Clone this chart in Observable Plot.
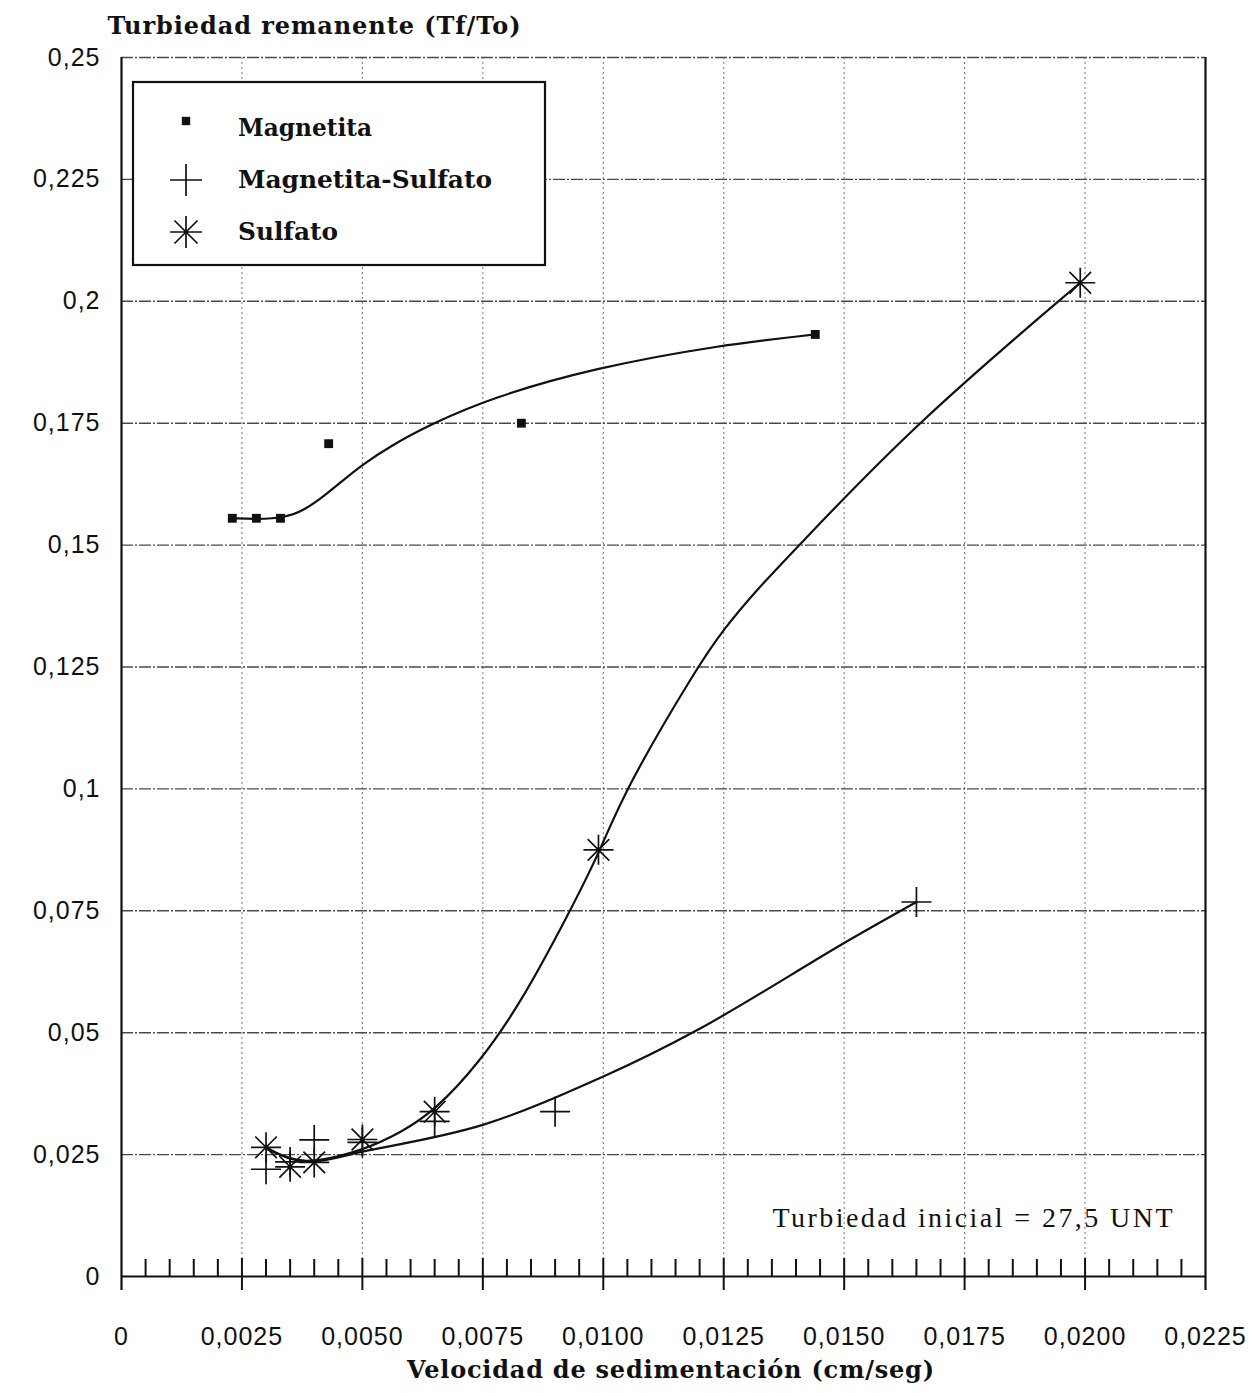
<!DOCTYPE html>
<html><head><meta charset="utf-8">
<script src="https://cdn.jsdelivr.net/npm/d3@7"></script>
<script src="https://cdn.jsdelivr.net/npm/@observablehq/plot@0.6"></script>
<style>
body{margin:0;background:#fff;}
#wrap{position:relative;width:1256px;height:1393px;}
</style></head><body><div id="wrap"></div>
<script>
// ---- data ----
const magX = [0.0023, 0.0028, 0.0033, 0.0043, 0.0083, 0.0144];
const magY = [0.1555, 0.1555, 0.1555, 0.1708, 0.1750, 0.1932];

const msX = [0.0030, 0.0035, 0.0040, 0.0050, 0.0065, 0.0090, 0.0165];
const msY = [0.0220, 0.0235, 0.0280, 0.0275, 0.0318, 0.0338, 0.0768];

const sulX = [0.0030, 0.0035, 0.0040, 0.0050, 0.0065, 0.0099, 0.0199];
const sulY = [0.0265, 0.0225, 0.0234, 0.0281, 0.0338, 0.0875, 0.2038];

// fitted curves (as drawn in the picture)
const magCurveX = [0.0023, 0.0028, 0.0034, 0.0038, 0.0042, 0.0046, 0.0050, 0.0056, 0.0064, 0.0077, 0.0098, 0.0124, 0.0144];
const magCurveY = [0.1555, 0.1553, 0.1556, 0.1572, 0.1600, 0.1633, 0.1665, 0.1704, 0.1747, 0.1803, 0.1863, 0.1910, 0.1932];

const msCurveX = [0.0030, 0.0035, 0.0040, 0.0050, 0.0075, 0.0100, 0.0120, 0.0150, 0.0165];
const msCurveY = [0.0262, 0.0243, 0.0236, 0.0256, 0.0311, 0.0410, 0.0508, 0.0684, 0.0768];

const sulCurveX = [0.0030, 0.0035, 0.0040, 0.0050, 0.0058, 0.0065, 0.0074, 0.00828, 0.00932, 0.00994, 0.01046, 0.01195, 0.0125, 0.0132, 0.01396, 0.01648, 0.0199];
const sulCurveY = [0.0265, 0.0238, 0.0234, 0.0258, 0.0295, 0.0340, 0.0435, 0.0559, 0.0751, 0.0874, 0.1000, 0.1250, 0.1328, 0.1410, 0.1489, 0.1750, 0.2038];

const xTicks = [0, 0.0025, 0.0050, 0.0075, 0.0100, 0.0125, 0.0150, 0.0175, 0.0200, 0.0225];
const xTickLabels = ["0", "0,0025", "0,0050", "0,0075", "0,0100", "0,0125", "0,0150", "0,0175", "0,0200", "0,0225"];
const yTicks = [0, 0.025, 0.05, 0.075, 0.1, 0.125, 0.15, 0.175, 0.2, 0.225, 0.25];
const yTickLabels = ["0", "0,025", "0,05", "0,075", "0,1", "0,125", "0,15", "0,175", "0,2", "0,225", "0,25"];

const seriesNames = ["Magnetita", "Magnetita-Sulfato", "Sulfato"];
const yTitle = "Turbiedad remanente (Tf/To)";
const xTitle = "Velocidad de sedimentación (cm/seg)";
const note = "Turbiedad inicial = 27,5 UNT";

// ---- layout ----
const W = 1256, H = 1393, mL = 121, mR = 51, mT = 57, mB = 117;
const plotH = H - mT - mB;
const titleFont = "DejaVu Serif";
const tickFont = "Liberation Sans";

const rows = (xs, ys) => xs.map((x, i) => ({x, y: ys[i]}));
const minorTicks = d3.range(1, 45).map(i => i * 0.0005).filter((v, i) => (i + 1) % 5 !== 0);
const xGrid = xTicks.slice(1, -1);
const yGrid = yTicks.slice(1);

const plusSym = {draw(ctx, size) { const r = Math.sqrt(size / Math.PI);
  ctx.moveTo(-r, 0); ctx.lineTo(r, 0); ctx.moveTo(0, -r); ctx.lineTo(0, r); }};
const starSym = {draw(ctx, size) { const r = Math.sqrt(size / Math.PI), d = r * 0.72;
  ctx.moveTo(-r, 0); ctx.lineTo(r, 0); ctx.moveTo(0, -r); ctx.lineTo(0, r);
  ctx.moveTo(-d, -d); ctx.lineTo(d, d); ctx.moveTo(-d, d); ctx.lineTo(d, -d); }};

const chart = Plot.plot({
  width: W, height: H, marginLeft: mL, marginRight: mR, marginTop: mT, marginBottom: mB,
  x: {domain: [0, 0.0225], axis: null},
  y: {domain: [0, 0.25], axis: null},
  style: {background: "white", overflow: "visible"},
  marks: [
    Plot.ruleX(xGrid, {stroke: "#8a8a8a", strokeWidth: 1.2, strokeDasharray: "2,3"}),
    Plot.ruleY(yGrid, {stroke: "#4a4a4a", strokeWidth: 1.4, strokeDasharray: "12,2,2,2"}),
    Plot.ruleX(minorTicks, {insetTop: plotH - 17, stroke: "#111", strokeWidth: 2}),
    Plot.ruleX(xTicks.slice(1, -1), {insetTop: plotH - 18, insetBottom: -14, stroke: "#111", strokeWidth: 2}),
    Plot.ruleX([0, 0.0225], {insetBottom: -14, stroke: "#111", strokeWidth: 2.2}),
    Plot.ruleY([0], {stroke: "#111", strokeWidth: 2.2}),
    Plot.line(rows(magCurveX, magCurveY), {x: "x", y: "y", curve: "basis", stroke: "#111", strokeWidth: 2.2}),
    Plot.line(rows(msCurveX, msCurveY), {x: "x", y: "y", curve: "catmull-rom", stroke: "#111", strokeWidth: 2.2}),
    Plot.line(rows(sulCurveX, sulCurveY), {x: "x", y: "y", curve: "basis", stroke: "#111", strokeWidth: 2.2}),
    Plot.dot(rows(magX, magY), {x: "x", y: "y", symbol: "square", r: 5, fill: "#111", stroke: "none"}),
    Plot.dot(rows(msX, msY), {x: "x", y: "y", symbol: plusSym, r: 15, fill: "none", stroke: "#111", strokeWidth: 1.7}),
    Plot.dot(rows(sulX, sulY), {x: "x", y: "y", symbol: starSym, r: 15, fill: "none", stroke: "#111", strokeWidth: 1.7}),
    Plot.text(xTicks, {x: d => d, text: (d, i) => xTickLabels[i], frameAnchor: "bottom", dy: 60, lineAnchor: "middle",
      fontFamily: tickFont, fontSize: 25, fill: "#111"}),
    Plot.text(yTicks, {y: d => d, text: (d, i) => yTickLabels[i], frameAnchor: "left", dx: -21, textAnchor: "end", lineAnchor: "middle",
      fontFamily: tickFont, fontSize: 25, fill: "#111"}),
    Plot.text([yTitle], {text: d => d, frameAnchor: "top-left", dx: -14, dy: -31, textAnchor: "start", lineAnchor: "middle",
      fontFamily: titleFont, fontWeight: "bold", fontSize: 24, fill: "#111"}),
    Plot.text([xTitle], {text: d => d, frameAnchor: "bottom", dx: 7, dy: 94, lineAnchor: "middle",
      fontFamily: titleFont, fontWeight: "bold", fontSize: 24, fill: "#111"}),
    Plot.text([note], {text: d => d, frameAnchor: "bottom-right", dx: -33, dy: -58, textAnchor: "end", lineAnchor: "middle",
      fontFamily: "Liberation Serif", fontSize: 28, fill: "#111"})
  ]
});
document.getElementById("wrap").appendChild(chart);

// letter-spacing like the original printer font
const svg = d3.select(chart);
const widths = {[yTitle]: 413, [xTitle]: 527, [note]: 400};
svg.selectAll("text").each(function() {
  const t = this.textContent;
  if (widths[t]) { this.setAttribute("textLength", widths[t]); this.setAttribute("lengthAdjust", "spacing"); }
  if (xTickLabels.includes(t) || yTickLabels.includes(t)) this.setAttribute("letter-spacing", "1");
});

// legend box (layout element)
const lg = svg.append("g");
lg.append("rect").attr("x", 133).attr("y", 82).attr("width", 412).attr("height", 183)
  .attr("fill", "white").attr("stroke", "#111").attr("stroke-width", 2.2);
const legendSyms = [d3.symbol(d3.symbolSquare, 70)(), d3.symbol(plusSym, Math.PI * 16 * 16)(), d3.symbol(starSym, Math.PI * 16 * 16)()];
const legendW = [134, 254, 100];
seriesNames.forEach((name, i) => {
  const cy = 128 + i * 52;
  lg.append("path").attr("d", legendSyms[i]).attr("transform", `translate(186,${i === 0 ? cy - 7 : cy})`)
    .attr("fill", i === 0 ? "#111" : "none").attr("stroke", i === 0 ? "none" : "#111").attr("stroke-width", 1.7);
  lg.append("text").attr("x", 238).attr("y", cy).attr("dy", "0.35em").attr("text-anchor", "start").text(name)
    .attr("font-family", titleFont).attr("font-weight", "bold").attr("font-size", 24).attr("fill", "#111")
    .attr("textLength", legendW[i]).attr("lengthAdjust", "spacingAndGlyphs");
});
</script>
</body></html>
